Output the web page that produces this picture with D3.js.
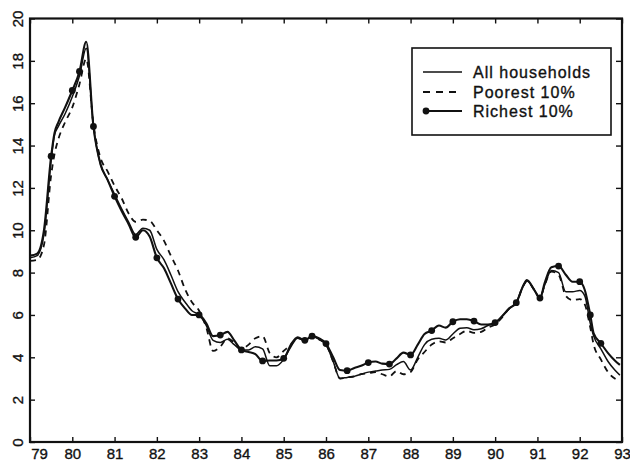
<!DOCTYPE html>
<html>
<head>
<meta charset="utf-8">
<script src="https://cdn.jsdelivr.net/npm/d3@7"></script>
<style>
  body { margin: 0; background: #fff; }
  svg text { font-family: "Liberation Sans", Arial, sans-serif; fill: #111; stroke: #111; stroke-width: 0.35px; }
</style>
</head>
<body>
<svg id="chart" width="630" height="461"></svg>
<script>
// time in years (79 = 1979)
const years = [79.0, 79.17, 79.33, 79.5, 79.58, 79.67, 79.83, 80.0, 80.17, 80.33, 80.5, 80.67, 80.83,
  81.0, 81.17, 81.33, 81.5, 81.67, 81.83, 82.0, 82.17, 82.33, 82.5, 82.67, 82.83,
  83.0, 83.17, 83.33, 83.5, 83.67, 83.83, 84.0, 84.17, 84.33, 84.5, 84.67, 84.83,
  85.0, 85.17, 85.33, 85.5, 85.67, 85.83, 86.0, 86.17, 86.33, 86.5, 86.67, 86.83,
  87.0, 87.17, 87.33, 87.5, 87.67, 87.83, 88.0, 88.17, 88.33, 88.5, 88.67, 88.83,
  89.0, 89.17, 89.33, 89.5, 89.67, 89.83, 90.0, 90.17, 90.33, 90.5, 90.67, 90.75, 90.92,
  91.06, 91.17, 91.33, 91.5, 91.67, 91.83, 92.0, 92.12, 92.25, 92.33, 92.5, 92.67, 92.83, 92.95];

const allHouseholds = [8.7, 8.8, 9.8, 13.3, 14.5, 14.9, 15.5, 16.3, 17.3, 18.6, 14.9, 13.1, 12.4,
  11.7, 11.0, 10.4, 9.8, 10.1, 10.0, 9.1, 8.6, 7.9, 7.1, 6.6, 6.2,
  6.0, 5.5, 4.8, 4.7, 4.85, 4.6, 4.35, 4.35, 4.5, 4.4, 3.6, 3.6,
  3.9, 4.5, 4.9, 4.8, 5.0, 4.85, 4.6, 3.8, 3.0, 3.05, 3.1, 3.2,
  3.3, 3.35, 3.4, 3.43, 3.65, 3.8, 3.4, 4.0, 4.6, 4.85, 4.9, 4.82,
  5.1, 5.37, 5.4, 5.3, 5.35, 5.5, 5.6, 5.95, 6.3, 6.58, 7.4, 7.6, 7.2,
  6.8, 7.4, 8.1, 8.0, 7.1, 7.1, 7.15, 6.9, 5.6, 5.0, 4.4, 3.8, 3.4, 3.16];

const poorest = [8.55, 8.6, 9.3, 12.6, 13.6, 14.3, 15.1, 15.8, 16.9, 18.1, 15.0, 13.4, 12.8,
  12.1, 11.5, 10.8, 10.4, 10.5, 10.45, 10.0, 9.5, 8.8, 8.1, 7.2, 6.6,
  6.2, 5.4, 4.3, 4.5, 4.9, 4.7, 4.4, 4.6, 4.9, 5.0, 4.2, 4.0,
  4.3, 4.6, 4.9, 4.8, 5.0, 4.85, 4.6, 3.8, 3.0, 3.05, 3.1, 3.2,
  3.25, 3.3, 3.2, 3.1, 3.35, 3.2, 3.3, 3.9, 4.25, 4.6, 4.75, 4.7,
  4.9, 5.1, 5.25, 5.15, 5.2, 5.4, 5.55, 5.9, 6.3, 6.58, 7.4, 7.6, 7.2,
  6.8, 7.4, 8.05, 7.9, 6.9, 6.7, 6.75, 6.5, 5.4, 4.6, 3.9, 3.3, 3.0, 2.9];

const richest = [8.8, 8.9, 10.0, 13.5, 14.6, 15.1, 15.8, 16.6, 17.5, 18.9, 14.9, 13.1, 12.4,
  11.6, 10.9, 10.3, 9.67, 10.0, 9.7, 8.7, 8.2, 7.5, 6.75, 6.3, 6.0,
  6.0, 5.6, 5.0, 5.05, 5.2, 4.8, 4.35, 4.25, 4.15, 3.83, 3.85, 3.85,
  3.95, 4.6, 4.95, 4.8, 5.0, 4.9, 4.65, 4.0, 3.4, 3.37, 3.5, 3.6,
  3.75, 3.8, 3.7, 3.68, 3.95, 4.22, 4.11, 4.6, 5.1, 5.26, 5.5, 5.4,
  5.68, 5.8, 5.8, 5.71, 5.55, 5.55, 5.64, 5.95, 6.3, 6.58, 7.4, 7.65, 7.2,
  6.8, 7.5, 8.25, 8.31, 7.9, 7.57, 7.57, 7.18, 6.0, 5.13, 4.66, 4.2, 3.85, 3.64];

// the richest line carries a dot at these times
const richestDots = [79.5, 80.0, 80.17, 80.5, 81.0, 81.5, 82.0, 82.5, 83.0, 83.5, 84.0, 84.5, 85.0,
  85.5, 85.67, 86.0, 86.5, 87.0, 87.5, 88.0, 88.5, 89.0, 89.5, 90.0, 90.5, 91.06, 91.5, 92.0, 92.25, 92.5];

const yearTicks = d3.range(79, 94);
const valueTicks = d3.range(0, 21, 2);
const legendLabels = ['All households', 'Poorest 10%', 'Richest 10%'];

const svg = d3.select('#chart');
const plotLeft = 30, plotRight = 622, plotTop = 18.5, plotBottom = 442;

const x = d3.scaleLinear().domain([79, 93]).range([plotLeft, plotRight]);
const y = d3.scaleLinear().domain([0, 20]).range([plotBottom, plotTop]);

// axes, ticks pointing inward
const gx = svg.append('g')
	.attr('transform', 'translate(0,' + plotBottom + ')')
	.call(d3.axisBottom(x).tickValues(yearTicks).tickFormat(d3.format('d')).tickSize(-5).tickSizeOuter(0).tickPadding(6));
gx.selectAll('text').style('font-size', '15px')
	.attr('dx', (d) => d === 79 ? 9 : 0);

const gy = svg.append('g')
	.attr('transform', 'translate(' + plotLeft + ',0)')
	.call(d3.axisLeft(y).tickValues(valueTicks).tickSize(-5).tickSizeOuter(0));
gy.selectAll('text')
	.style('font-size', '15px')
	.attr('x', 0).attr('dy', 0)
	.attr('text-anchor', 'middle')
	.attr('transform', 'translate(-7,0) rotate(-90)');

svg.append('g')
	.attr('transform', 'translate(0,' + plotTop + ')')
	.call(d3.axisTop(x).tickValues(yearTicks).tickFormat('').tickSize(-5).tickSizeOuter(0));
svg.append('g')
	.attr('transform', 'translate(' + plotRight + ',0)')
	.call(d3.axisRight(y).tickValues(valueTicks).tickFormat('').tickSize(-6).tickSizeOuter(0));

svg.selectAll('.tick line').attr('stroke', '#111').attr('stroke-width', 1.4);
svg.selectAll('.domain').remove();

svg.append('rect')
	.attr('x', plotLeft).attr('y', plotTop)
	.attr('width', plotRight - plotLeft).attr('height', plotBottom - plotTop)
	.attr('fill', 'none').attr('stroke', '#111').attr('stroke-width', 2.2);

// lines
const line = (vals) => d3.line()
	.x((d, i) => x(years[i]))
	.y((d) => y(d))
	.curve(d3.curveMonotoneX)(vals);

svg.append('path').attr('d', line(poorest))
	.attr('fill', 'none').attr('stroke', '#111').attr('stroke-width', 1.8)
	.attr('stroke-dasharray', '6,5');
svg.append('path').attr('d', line(allHouseholds))
	.attr('fill', 'none').attr('stroke', '#111').attr('stroke-width', 1.5);
svg.append('path').attr('d', line(richest))
	.attr('fill', 'none').attr('stroke', '#111').attr('stroke-width', 2.1);

svg.selectAll('.dot')
	.data(richestDots)
	.enter().append('circle')
	.attr('class', 'dot')
	.attr('cx', (d) => x(d))
	.attr('cy', (d) => y(richest[years.indexOf(d)]))
	.attr('r', 3.4)
	.attr('fill', '#111');

// legend
const legend = svg.append('g');
legend.append('rect')
	.attr('x', 412).attr('y', 48).attr('width', 199).attr('height', 87)
	.attr('fill', '#fff').attr('stroke', '#111').attr('stroke-width', 1.6);

const rows = legend.selectAll('.legend-row')
	.data(legendLabels)
	.enter().append('g')
	.attr('class', 'legend-row')
	.attr('transform', (d, i) => 'translate(0,' + [72, 92, 111][i] + ')');

rows.append('line')
	.attr('x1', 423).attr('x2', 462).attr('y1', 0).attr('y2', 0)
	.attr('stroke', '#111')
	.attr('stroke-width', (d, i) => [1.5, 1.8, 2.0][i])
	.attr('stroke-dasharray', (d, i) => i === 1 ? '7,6' : null);
rows.filter((d, i) => i === 2).append('circle')
	.attr('cx', 426).attr('cy', 0).attr('r', 3.4).attr('fill', '#111');
rows.append('text')
	.attr('x', 473).attr('y', 0).attr('dy', '0.35em')
	.style('font-size', '16px')
	.style('letter-spacing', '1px')
	.text((d) => d);
</script>
</body>
</html>
